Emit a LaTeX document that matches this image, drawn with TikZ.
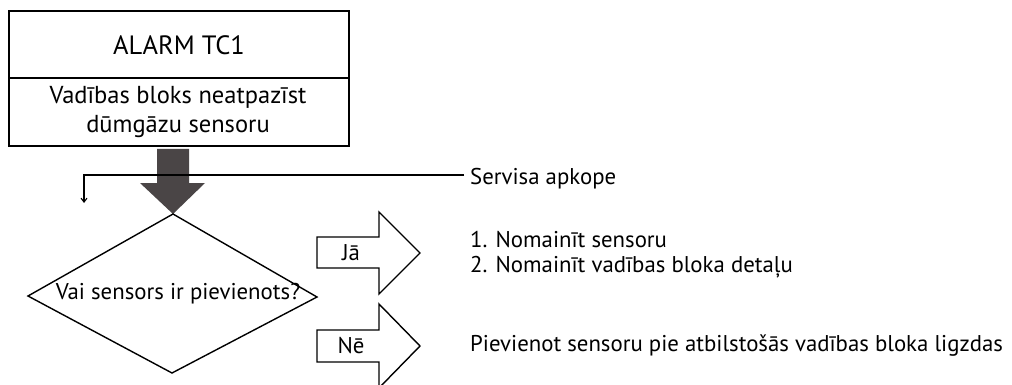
\documentclass[tikz,border=0pt]{standalone}
\usepackage{fontspec}
\setmainfont{PT Sans}
\usetikzlibrary{arrows.meta}
\definecolor{bigarrow}{HTML}{4A4546}
\tikzset{
  outline/.style={draw=black, line width=1.4pt},
  txt/.style={inner sep=0pt, font=\fontsize{22.8}{27}\selectfont},
  bigtxt/.style={inner sep=0pt, font=\fontsize{24.5}{29}\selectfont},
  thin/.style={draw=black, line width=1.1pt},
}
\begin{document}
\begin{tikzpicture}[x=1pt,y=-1pt]
\useasboundingbox (0,0) rectangle (1012,385);
% title box
\draw[outline] (9,11) rectangle (349,146);
\draw[outline] (9,78) -- (349,78);
\node[bigtxt, font=\fontsize{26.5}{30}\selectfont] (title) at (179,45) {ALARM TC1};
\node[bigtxt, align=center] (fault) at (178,112) {Vadības bloks neatpazīst\\dūmgāzu sensoru};
% big arrow
\fill[bigarrow] (157,149) -- (189,149) -- (189,183) -- (205,183) -- (173,214) -- (140,183) -- (157,183) -- cycle;
% service line
\coordinate (svcL) at (84,175);
\coordinate (svcD) at (84,203);
\node[txt, anchor=west] (svc) at (470,179) {Servisa apkope};
\draw[thin, -{Straight Barb[length=4pt,width=6pt]}] (svc.west) ++(-6,-4) coordinate (svcR) -- (svcL) -- (svcD);
% diamond
\coordinate (dT) at (173,214);
\coordinate (dL) at (28,296);
\coordinate (dR) at (317,297);
\coordinate (dB) at (172,373);
\draw[outline] (dT) -- (dR) -- (dB) -- (dL) -- cycle;
\node[txt] (q) at (178,294) {Vai sensors ir pievienots?};
% yes arrow
\draw[outline] (317,237) -- (379,237) -- (379,212) -- (420,253) -- (379,294) -- (379,268) -- (317,268) -- cycle;
\node[txt] (yes) at (351,253) {Jā};
% no arrow
\draw[outline] (317,330) -- (379,330) -- (379,304) -- (420,346) -- (379,388) -- (379,362) -- (317,362) -- cycle;
\node[txt] (no) at (351,346) {Nē};
% right texts
\node[txt, anchor=west] (y1) at (470,240) {1. Nomainīt sensoru};
\node[txt, anchor=west] (y2) at (470,267) {2. Nomainīt vadības bloka detaļu};
\node[txt, anchor=west] (n1) at (470,346) {Pievienot sensoru pie atbilstošās vadības bloka ligzdas};
\end{tikzpicture}
\end{document}
